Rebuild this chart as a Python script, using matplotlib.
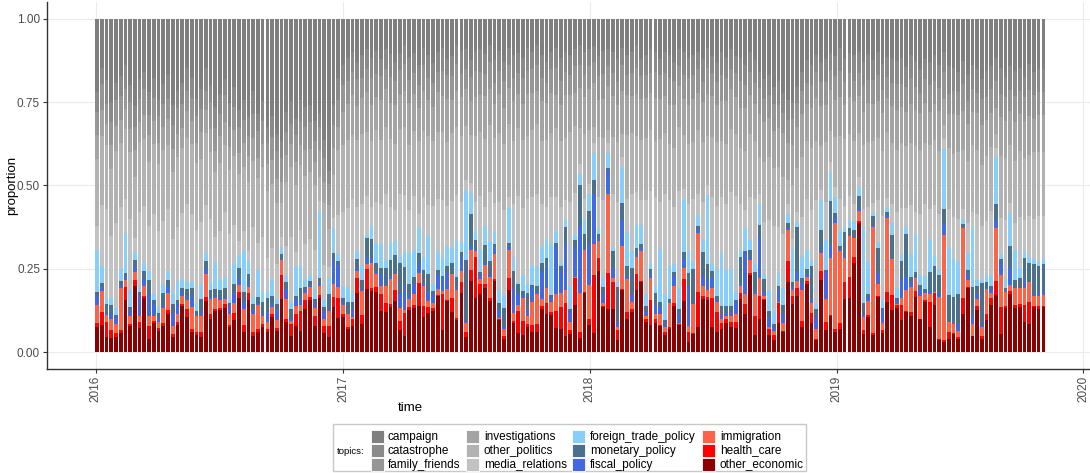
import numpy as np
import pandas as pd
import matplotlib
matplotlib.use("Agg")
import matplotlib.pyplot as plt
import matplotlib.dates as mdates
from matplotlib.patches import Rectangle

plt.rcParams['font.family'] = ['Liberation Sans', 'DejaVu Sans']

W, H = 1090, 473
weeks = pd.date_range('2016-01-03', periods=201, freq='7D')

# ---- data: weekly topic shares (percent, normalised per week) ----
other_economic = [
 7.6, 8.5, 4.6, 4.3, 4.6, 5.6, 15.7, 7.9, 19.6, 7.3,
 16.2, 4.0, 9.0, 6.3, 7.9, 11.5, 4.6, 8.4, 13.5, 10.6,
 6.3, 5.1, 4.6, 15.6, 10.1, 12.0, 13.0, 13.4, 7.5, 10,
 16, 6, 16, 5, 6, 7.6, 6, 10.5, 6.3, 15.6,
 9, 5, 8, 6.3, 13.3, 15.6, 7.8, 16, 5.6, 4.3,
 13.6, 10.6, 10.6, 7, 8, 17.6, 8.6, 19, 18.6, 18.3,
 12.3, 12, 14, 15.6, 6.6, 5, 13, 13, 14, 10.6,
 12, 12, 17, 7, 15.3, 12, 10, 18, 4.6, 21,
 16.6, 17.6, 20, 15.3, 21, 10, 4, 19, 9, 5.6,
 5.3, 7.6, 6, 6, 13, 11.3, 11, 7.3, 7, 5,
 5.6, 14, 4.3, 18, 8, 5.6, 24, 14, 13, 13,
 3.6, 19, 10, 12, 19, 21, 9.3, 8, 9, 8,
 5, 7, 14, 8, 15.3, 3, 5.6, 7.6, 16, 16,
 7.6, 6, 7, 9, 7.6, 7, 16, 11.6, 23.3, 5,
 10, 15.6, 5.3, 3.6, 9, 6, 21, 14.6, 16.6, 7.6,
 20, 9, 3.6, 21.6, 6.6, 10.6, 6, 7, 16, 16,
 27, 38.5, 5.6, 11, 5, 16.8, 6, 14.6, 12.6, 13.6,
 10, 11.6, 11, 17, 9.8, 15, 7.6, 14.6, 3.6, 3,
 3.8, 5.4, 4, 11.6, 19.6, 4.8, 12.6, 3.9, 10, 14,
 17.5, 5.6, 13, 17, 13.6, 13.6, 8.8, 8.8, 13.6, 13,
 13.6]
health_care = [
 1.3, 3.8, 4.4, 2.3, 1.5, 1.0, 3.9, 0.7, 2.0, 1.7,
 0.8, 3.8, 0.5, 0.8, 1.1, 1.1, 1.0, 0.9, 0.7, 2.5,
 0.7, 1.0, 1.5, 1.4, 1.5, 0.6, 0.5, 1.1, 0.5, 2,
 2, 2, 2, 1, 1, 1, 1, 1, 0.7, 7,
 1, 3.5, 3.5, 5.7, 2.7, 1, 2.8, 1, 2, 3.3,
 3, 6, 1, 0.6, 2, 4.4, 2.8, 6, 1, 1.7,
 5, 2.6, 1, 3.4, 2.4, 7, 1, 1, 7, 3.4,
 2, 1, 0.3, 11, 0.3, 4, 0.6, 3.6, 1.4, 3,
 12.4, 3, 1, 1, 0.5, 0.3, 0.8, 3.6, 0.6, 6.4,
 4.3, 1, 2, 2.6, 1, 3.3, 1, 5.3, 6.6, 10,
 1, 8, 1.7, 0.3, 2, 17.4, 4, 0.3, 10.6, 8,
 3, 0.3, 2, 1, 5, 0.3, 0.7, 7.6, 1, 0.3,
 1, 0.6, 1, 0.3, 6.7, 3, 0.3, 10.4, 1, 1,
 8.4, 6, 2, 1, 1.4, 2, 2, 3, 0.7, 5.6,
 7, 0.4, 1.7, 1.4, 6, 0.3, 6, 2.4, 2.4, 2,
 1, 3, 0.4, 2.8, 2.4, 0.4, 1, 2, 5, 6,
 2, 0.5, 1, 0.6, 0.6, 0.2, 0.8, 3, 4.4, 0.8,
 4.6, 0.4, 1.4, 1.6, 0.2, 0.6, 7.4, 3.4, 0.4, 0.6,
 2.2, 0.4, 0.6, 5, 0.3, 0.2, 1, 1.1, 1.6, 2,
 4, 8.4, 0.6, 1, 1, 1, 5.2, 6.8, 0.4, 1,
 0.4]
immigration = [
 5.4, 6.3, 1.9, 3.4, 2.5, 12.6, 2.0, 2.4, 2.2, 2.0,
 3.0, 3.1, 1.5, 2.0, 4.4, 5.2, 2.4, 2.3, 2.4, 2.7,
 6.6, 4.8, 4.8, 7.0, 4.5, 3.5, 2.4, 1.6, 3.3, 3,
 2, 5, 2, 5.6, 7, 2.4, 2, 1.8, 2.6, 4.4,
 6, 1, 2.5, 2, 2, 3, 2.4, 2.6, 2, 4.4,
 4, 3.4, 2.7, 4, 0.6, 2, 7.2, 1.6, 7.4, 4,
 2.3, 5, 7.6, 4.6, 4, 1, 2.6, 3, 3, 6,
 1.6, 1.6, 1.7, 1, 3.4, 7.3, 8.4, 3.4, 2.6, 6,
 2, 1.4, 6, 6.3, 7.5, 0.3, 2.2, 8.4, 2.4, 2,
 7, 2.4, 7, 9, 2, 4.4, 3, 5, 4.4, 4,
 2.4, 0.3, 12, 13, 10, 9, 5, 1, 23.4, 1,
 1, 13, 10, 2, 5, 9, 1, 6.4, 1.6, 3.3,
 1.6, 7.2, 5, 0.3, 3.4, 2, 8.7, 17.4, 3, 2,
 3, 3, 1, 1, 2, 2.3, 2, 3, 4, 6.4,
 5.6, 1, 0.6, 1.3, 0.3, 2.3, 9.3, 1.6, 2, 9.4,
 1, 3, 3, 5.2, 7, 16.6, 31.3, 22, 7.4, 12.3,
 5.5, 3, 4, 4.2, 31.1, 3.6, 2.2, 21.4, 10.6, 0.4,
 2, 6, 7.6, 4, 6.6, 2, 2.6, 0.3, 12.6, 31.7,
 3, 2.8, 1.8, 21.1, 2.1, 3.6, 2.2, 2.6, 7.9, 1.6,
 16, 9.6, 4, 1.8, 5.2, 5, 5, 6.2, 3, 3,
 3.3]
fiscal_policy = [
 2.5, 1.3, 0.7, 1.6, 2.0, 0.7, 1.3, 1.6, 1.4, 6.0,
 2.0, 6.9, 3.4, 1.0, 1.2, 1.8, 3.9, 3.0, 1.4, 1.0,
 3.8, 0.3, 1.2, 1.5, 0.5, 0.5, 0.7, 0.5, 2.8, 3,
 2, 2, 1, 1.4, 0.3, 0.3, 3, 1.2, 3, 0.3,
 3, 0.5, 2, 2, 1, 0.4, 1, 1, 2.4, 0.3,
 7.4, 6.6, 0.7, 0.4, 2.4, 1, 0.4, 2, 1.6, 0.6,
 4, 0.4, 1.4, 0.4, 4, 7.6, 1.4, 3, 3, 1,
 3, 2.4, 4.5, 4, 5, 0.3, 1, 4, 0.7, 1,
 0.6, 1, 1, 0.4, 1.6, 2.4, 1, 1, 7.6, 3,
 1, 2, 4, 0.7, 8.3, 7, 1, 14.4, 7, 14,
 3, 9, 20.3, 0.3, 12, 15, 1, 3, 7, 3,
 1.4, 8, 1, 2, 1, 0.6, 1.3, 1.6, 2.7, 2.4,
 0.4, 0.2, 3, 3, 3, 12, 0.3, 1.2, 3, 3,
 3, 1, 2, 1, 1, 3.3, 1, 12.4, 1, 1,
 12.4, 1, 3, 0.7, 3.7, 2.7, 0.7, 1, 2.6, 2,
 1.3, 1.3, 3.6, 0.4, 8, 3.8, 1.7, 0.6, 0.6, 0.3,
 0.5, 0.8, 1, 1.2, 0.3, 3.4, 3.8, 0.7, 0.4, 1,
 5.8, 4, 1.7, 0.4, 2.1, 0.4, 0.4, 0.3, 1, 3.2,
 0.3, 1, 2.2, 0.3, 1.7, 2, 1.8, 0.4, 0.1, 1,
 2.5, 3.9, 1, 4.9, 0.2, 0.2, 2.6, 0.2, 0.6, 1,
 0.7]
monetary_policy = [
 1.2, 1.4, 2.5, 2.5, 1.0, 1.4, 1.0, 1.0, 2.3, 1.0,
 2.4, 3.8, 1.5, 1.5, 3.4, 2.0, 2.7, 1.3, 1.0, 2.4,
 2.2, 1.0, 4.0, 2.3, 2.0, 2.0, 2.4, 2.8, 0.5, 3,
 3, 3, 3, 1.6, 2, 4, 4, 2.1, 1.5, 1.7,
 2, 3, 1, 3, 1, 1.4, 1.6, 1.4, 1, 4.7,
 2, 1.4, 1.3, 3.3, 2, 2.6, 3, 5.7, 5.7, 2.7,
 1.4, 5, 4.6, 5.6, 9, 5.4, 3, 2, 3, 4,
 5.4, 1, 1.1, 0.6, 2, 3, 3, 1.6, 18.3, 9.6,
 2.7, 1, 5, 4.3, 1.2, 2, 5.4, 1, 5, 3,
 1, 5, 1, 1.7, 2.7, 2, 1, 1, 1, 5,
 1, 2, 12.3, 4.3, 9.8, 4, 1, 2, 0.6, 5,
 10.6, 5, 3, 8, 2, 1.4, 1.7, 1, 3.7, 1,
 1.6, 1, 1.3, 1.4, 1.6, 4, 10, 1, 7, 5,
 2, 1, 2, 2, 2, 0.7, 8, 0.6, 2, 5.6,
 3.6, 4, 2, 1.3, 1, 2.7, 1.3, 1.4, 13.4, 1.6,
 1.3, 9.7, 2.4, 6.6, 0.6, 13, 1.3, 1, 7, 2,
 2, 3.7, 3.2, 1, 3, 7.7, 0.8, 1, 6.7, 0.8,
 5.6, 12.3, 1.3, 1.6, 1.3, 0.7, 6, 7.9, 5.9, 4.5,
 7.5, 7, 8.8, 1, 1.3, 9, 2, 12.7, 2, 1,
 4.8, 1, 0.4, 6.6, 2.4, 2.8, 6.1, 5.7, 8.9, 8,
 8.6]
foreign_trade_policy = [
 12.8, 5.0, 1.8, 2.2, 2.2, 3.5, 11.8, 5.0, 2.3, 2.0,
 2.1, 2.8, 1.9, 1.9, 2.8, 2.7, 3.0, 5.7, 2.6, 2.0,
 2.0, 2.4, 4.4, 2.7, 2.2, 7.9, 3.2, 3.2, 0.8, 6,
 4, 12, 4, 2, 8, 2.7, 2.3, 5, 2, 2,
 2, 2, 8.6, 6.6, 2, 1.9, 3, 20, 2.3, 4.6,
 7.6, 2, 3.7, 4.7, 2.6, 2.4, 4.3, 1, 4, 6,
 7, 2, 5, 4, 1.6, 4.6, 9.6, 8, 8, 4,
 11.6, 2, 5.4, 5.4, 6, 4.4, 11, 3, 20.8, 6,
 2.7, 6.6, 6, 5.7, 3.8, 4, 3.6, 11, 4.4, 0.6,
 5, 3, 5.6, 6, 5, 5.6, 15, 3.6, 1, 2,
 6.6, 1.6, 3.4, 4.7, 5.2, 8, 2, 3, 4.4, 1,
 1.4, 11, 10, 5, 7, 5.6, 3.8, 2, 2, 16,
 7.4, 10, 2.3, 6, 16, 6.6, 2, 3, 4, 21,
 2.6, 8, 16, 11, 11, 2.3, 1.6, 7, 3, 2.4,
 6.4, 1.3, 6.4, 3.7, 4, 5, 2.7, 10, 1.6, 6.4,
 5.4, 1.6, 1.6, 9, 9, 8.6, 4.7, 4.4, 1.6, 2.4,
 2.5, 2.5, 22.9, 10, 1, 1.8, 3, 1.3, 3.6, 3.4,
 2, 2, 7, 11.7, 2.8, 3.9, 10, 3, 1.5, 18,
 13.7, 12.1, 9.6, 1.5, 5, 17.1, 1.8, 0.8, 2.4, 3,
 14.2, 1.5, 2.6, 9.7, 9.1, 2.9, 2.3, 1.6, 1.5, 1,
 1.4]
media_relations = [
 7.2, 18.7, 26.1, 18.7, 26.2, 18.2, 10.3, 21.4, 4.2, 22,
 17.5, 13.6, 24.2, 22.5, 19.2, 18.7, 16.4, 16.4, 19.4, 23.8,
 20.4, 21.7, 18.5, 14.5, 19.2, 7.5, 14.8, 19.4, 19.6, 12,
 4, 6, 3, 21.4, 8, 17, 9.7, 9.4, 9.9, 3,
 9, 20, 4.4, 10.4, 11, 10.7, 11.4, 3, 9.7, 3,
 3, 12,
 22, 24, 28.4, 13, 18.7, 11.7, 5.7, 12.7, 12, 20,
 11.4, 9.4, 18.4, 17.4, 13.4, 16, 4, 18, 9.4, 23,
 16, 18, 12, 14, 14, 12.4, 3, 3, 9, 16.4,
 6, 15, 8.4, 27, 26, 3, 16, 25.4, 20.4, 26,
 20.4, 22, 13, 9.4, 14, 10.4, 17, 6, 25.4, 12.4,
 3, 6,
 3, 3, 9, 24, 3, 16, 24, 3, 10, 17,
 10, 7.4, 28.2, 21.4, 27, 14, 30, 20, 17.4, 29,
 3, 14.4, 19, 6.4, 11, 3, 19.4, 19, 17, 20,
 23, 28.4, 14.4, 5.4, 13, 19, 3, 15.7, 21, 25,
 14, 16, 3, 3, 3, 12, 15, 15.4, 31.4, 3,
 11.4, 3,
 3, 10, 6.4, 7, 5.5, 3, 5.3, 17, 3, 12.5,
 25.4, 3, 5.7, 23, 14, 5.7, 15, 6.7, 18.2, 21.4,
 9, 15.5, 17, 3, 11.5, 12.3, 13, 3, 9, 5.3,
 19.6, 16.5, 16, 19.4, 3, 11, 17.4, 3, 8.5, 15.5,
 9, 12.7, 12, 14, 13]
other_politics = [
 20, 21, 19, 20, 22, 19, 21, 20, 18, 21, 20, 19, 21, 20, 22, 19, 20, 21, 19, 20,
 21, 20, 19, 22, 20, 19, 21, 20, 19, 21, 20, 19, 21, 20, 19, 21, 20, 19, 18, 10,
 19, 21, 20, 19, 21, 20, 19, 7, 18, 11, 13, 20,
 20, 21, 19, 20, 21, 19, 20, 22, 19, 20, 21, 20, 19, 21, 20, 19, 22, 20, 21, 19,
 20, 21, 19, 20, 21, 20, 16, 14, 20, 19, 21, 20, 19, 21, 20, 22, 19, 20, 21, 19,
 20, 21, 19, 20, 19, 21, 20, 19, 21, 20, 11, 20,
 16, 5, 18, 19, 4, 17, 18, 7, 19, 18, 17, 18, 19, 18, 17, 19, 18, 17, 18, 19,
 16, 18, 17, 19, 18, 15, 18, 19, 17, 18, 19, 18, 17, 18, 19, 17, 11, 18, 19, 17,
 18, 17, 7, 16, 13, 18, 17, 19, 18, 13, 18, 9,
 15, 19, 20, 18, 19, 13, 19, 20, 18, 19, 20, 19, 18, 19, 20, 18, 19, 20, 19, 18,
 19, 20, 19, 4, 18, 19, 20, 18, 19, 20, 19, 18, 20, 19, 4, 19, 18, 17, 19, 20,
 18, 19, 20, 19, 19]
investigations = [
 7, 8, 6, 7, 8, 7, 6, 7, 8, 6, 7, 8, 7, 6, 7, 8, 7, 7, 6, 8,
 7, 6, 8, 7, 7, 6, 8, 7, 7, 8, 6, 7, 8, 7, 6, 7, 8, 7, 7, 6,
 8, 7, 7, 6, 8, 7, 7, 8, 6, 7, 8, 7,
 10, 11, 12, 10, 11, 12, 11, 10, 12, 11, 11, 12, 10, 11, 13, 11, 10, 12, 11, 10,
 12, 11, 13, 10, 11, 12, 11, 10, 12, 11, 13, 11, 10, 12, 11, 11, 12, 10, 11, 13,
 11, 10, 12, 11, 12, 10, 11, 13, 11, 10, 12, 11,
 12, 13, 11, 12, 13, 12, 11, 13, 12, 11, 13, 12, 12, 11, 13, 12, 11, 12, 13, 12,
 11, 12, 13, 11, 12, 13, 12, 11, 12, 13, 12, 11, 12, 13, 12, 11, 13, 12, 12, 11,
 12, 13, 11, 12, 12, 13, 11, 12, 13, 12, 11, 12,
 11, 12, 10, 11, 12, 11, 10, 12, 11, 11, 12, 10, 11, 12, 11, 10, 12, 11, 11, 12,
 10, 11, 12, 8, 10, 12, 11, 12, 11, 10, 11, 12, 11, 10, 8, 12, 11, 10, 12, 11,
 11, 12, 10, 11, 11]
family_friends = [
 7, 8, 6, 7, 8, 7, 6, 8, 7, 7, 8, 6, 7, 8, 7, 6, 7, 8, 7, 6,
 7, 8, 7, 6, 8, 7, 7, 8, 6, 7, 8, 7, 6, 7, 8, 7, 6, 7, 8, 7,
 7, 6, 8, 7, 7, 8, 6, 7, 7, 6, 7, 8,
 8, 7, 7, 8, 6, 7, 8, 7, 7, 6, 8, 7, 7, 8, 7, 6, 7, 8, 7, 7,
 6, 8, 7, 7, 8, 7, 6, 7, 8, 7, 7, 8, 6, 7, 8, 7, 7, 6, 8, 7,
 7, 8, 7, 6, 7, 8, 7, 7, 6, 8, 7, 7,
 7, 6, 7, 8, 6, 7, 7, 8, 6, 7, 8, 7, 7, 6, 8, 7, 7, 8, 7, 6,
 7, 8, 7, 7, 6, 8, 7, 7, 8, 7, 6, 7, 8, 7, 7, 6, 8, 7, 7, 8,
 7, 6, 7, 8, 7, 7, 6, 7, 8, 7, 7, 6,
 7, 8, 7, 7, 6, 7, 8, 7, 7, 8, 7, 6, 7, 8, 7, 7, 8, 7, 6, 7,
 8, 7, 7, 8, 6, 7, 7, 8, 7, 7, 6, 8, 7, 7, 8, 7, 7, 6, 8, 7,
 7, 8, 7, 7, 7]
catastrophe = [
 6, 5, 7, 6, 5, 6, 7, 5, 6, 6, 5, 7, 6, 5, 6, 7, 6, 5, 6, 7,
 6, 5, 6, 7, 5, 6, 6, 5, 7, 6, 5, 6, 6, 7, 5, 6, 5, 6, 5, 5,
 6, 7, 5, 6, 6, 5, 6, 4, 5, 4, 6, 7,
 6, 7, 6, 5, 7, 6, 6, 7, 5, 6, 7, 6, 5, 6, 7, 6, 6, 5, 7, 6,
 6, 7, 5, 6, 6, 7, 6, 5, 6, 7, 6, 5, 7, 6, 6, 5, 7, 6, 6, 7,
 5, 6, 7, 6, 5, 6, 7, 6, 6, 5, 6, 7,
 5, 5, 6, 7, 5, 6, 7, 5, 6, 6, 7, 5, 6, 7, 6, 5, 6, 7, 6, 5,
 7, 6, 6, 5, 7, 6, 5, 6, 7, 6, 6, 5, 7, 6, 6, 7, 5, 6, 6, 5,
 7, 6, 6, 5, 5, 6, 7, 6, 5, 6, 7, 5,
 6, 7, 7, 6, 8, 6, 7, 8, 6, 7, 8, 6, 7, 7, 8, 6, 7, 8, 7, 6,
 7, 8, 7, 6, 8, 7, 6, 7, 8, 7, 7, 6, 8, 7, 7, 8, 6, 7, 8, 7,
 6, 8, 7, 7, 7]
campaign = [
 22, 15, 18, 25, 20, 17, 14, 20, 26, 18,
 16, 22, 18, 24, 20, 17, 26, 22, 19, 15,
 18, 24, 21, 15, 20, 26, 23, 18, 25, 21,
 27, 24, 30, 22, 28, 25, 32, 29, 34, 36,
 28, 25, 30, 24, 27, 26, 30, 28, 35, 44,
 26, 18, 14, 12, 10, 13, 11, 9, 12, 10,
 12, 9, 11, 13, 10, 8, 12, 10, 14, 9,
 11, 13, 10, 9, 12, 11, 8, 10, 9, 12,
 10, 9, 11, 8, 12, 10, 13, 9, 11, 10,
 12, 9, 10, 8, 11, 13, 10, 9, 12, 10,
 11, 9, 8, 10, 9, 8, 11, 10, 9, 10,
 12, 9, 11, 10, 8, 12, 11, 9, 10, 12,
 10, 11, 13, 9, 10, 12, 11, 10, 12, 9,
 11, 13, 10, 12, 9, 11, 12, 14, 10, 12,
 16, 18, 17, 20, 19, 22, 24, 25, 20, 16,
 12, 14, 11, 13, 12, 10, 11, 9, 12, 10,
 11, 10, 13, 11, 12, 10, 14, 11, 12, 13,
 12, 14, 11, 13, 15, 12, 13, 11, 14, 10,
 14, 15, 16, 13, 17, 14, 15, 18, 16, 14,
 12, 15, 17, 14, 16, 15, 17, 14, 16, 15,
 15]

topics = ['campaign', 'catastrophe', 'family_friends', 'investigations',
          'other_politics', 'media_relations', 'foreign_trade_policy',
          'monetary_policy', 'fiscal_policy', 'immigration', 'health_care',
          'other_economic']
series = {
    'campaign': campaign, 'catastrophe': catastrophe,
    'family_friends': family_friends, 'investigations': investigations,
    'other_politics': other_politics, 'media_relations': media_relations,
    'foreign_trade_policy': foreign_trade_policy,
    'monetary_policy': monetary_policy, 'fiscal_policy': fiscal_policy,
    'immigration': immigration, 'health_care': health_care,
    'other_economic': other_economic}
colors = {
    'campaign': '#7f7f7f', 'catastrophe': '#8a8a8a', 'family_friends': '#969696',
    'investigations': '#a4a4a4', 'other_politics': '#b2b2b2',
    'media_relations': '#c2c2c2', 'foreign_trade_policy': '#87cefa',
    'monetary_policy': '#4a708b', 'fiscal_policy': '#4169e1',
    'immigration': '#ff6347', 'health_care': '#ff0000',
    'other_economic': '#8b0000'}

df = pd.DataFrame(series, index=weeks)
props = df.div(df.sum(axis=1), axis=0)

fig = plt.figure(figsize=(W / 100, H / 100), dpi=100)
ax = fig.add_axes([47 / W, 1 - 369 / H, (W - 47) / W, (369 - 2) / H])

x = mdates.date2num(weeks)
bottom = np.zeros(len(weeks))
for t in topics[::-1]:
    h = props[t].values
    ax.bar(x, h, width=5.5, bottom=bottom, color=colors[t], linewidth=0,
           align='center', zorder=2)
    bottom += h

years = [pd.Timestamp(f'{y}-01-01') for y in range(2016, 2021)]
ax.set_xlim(mdates.date2num(pd.Timestamp('2015-10-21')),
            mdates.date2num(pd.Timestamp('2020-01-11')))
ax.set_ylim(-0.05, 1.05)
ax.set_xticks(mdates.date2num(years))
ax.set_xticklabels([str(y.year) for y in years], rotation=90, ha='center', va='top')
ax.set_yticks([0, 0.25, 0.5, 0.75, 1.0])
ax.set_yticklabels(['0.00', '0.25', '0.50', '0.75', '1.00'])
ax.grid(True, color='#ebebeb', linewidth=0.8, zorder=0)
ax.set_axisbelow(True)
for s in ['top', 'right']:
    ax.spines[s].set_visible(False)
for s in ['left', 'bottom']:
    ax.spines[s].set_color('#333333')
    ax.spines[s].set_linewidth(1.0)
ax.tick_params(axis='both', colors='#333333', length=3, width=0.8,
               labelsize=8.5, labelcolor='#4d4d4d', pad=2)
ax.set_facecolor('white')

def fx(px):
    return px / W

def fy(py):
    return 1 - py / H

fig.text(fx(410), fy(408), 'time', ha='center', va='center', fontsize=9.5, color='black')
fig.text(fx(12), fy(185), 'proportion', ha='center', va='center', rotation=90,
         fontsize=9.5, color='black')

# legend box
fig.patches.append(Rectangle((fx(333), fy(471)), fx(806) - fx(333), fy(424) - fy(471),
                             transform=fig.transFigure, fill=False,
                             edgecolor='#c8c8c8', linewidth=1.0))
fig.text(fx(337), fy(451), 'topics:', ha='left', va='center', fontsize=6.8, color='black')
key_x = [371, 466, 572, 702]
txt_x = [388, 484, 590, 720]
row_y = [436.5, 450.5, 464.5]
for i, t in enumerate(topics):
    c, r = divmod(i, 3)
    ks = 12.5
    fig.patches.append(Rectangle((fx(key_x[c]), fy(row_y[r] + ks / 2)), ks / W, ks / H,
                                 transform=fig.transFigure, facecolor=colors[t],
                                 edgecolor='white', linewidth=0.6))
    fig.text(fx(txt_x[c]), fy(row_y[r]), t, ha='left', va='center', fontsize=8.5,
             color='black')

fig.savefig('out.png', dpi=100)
